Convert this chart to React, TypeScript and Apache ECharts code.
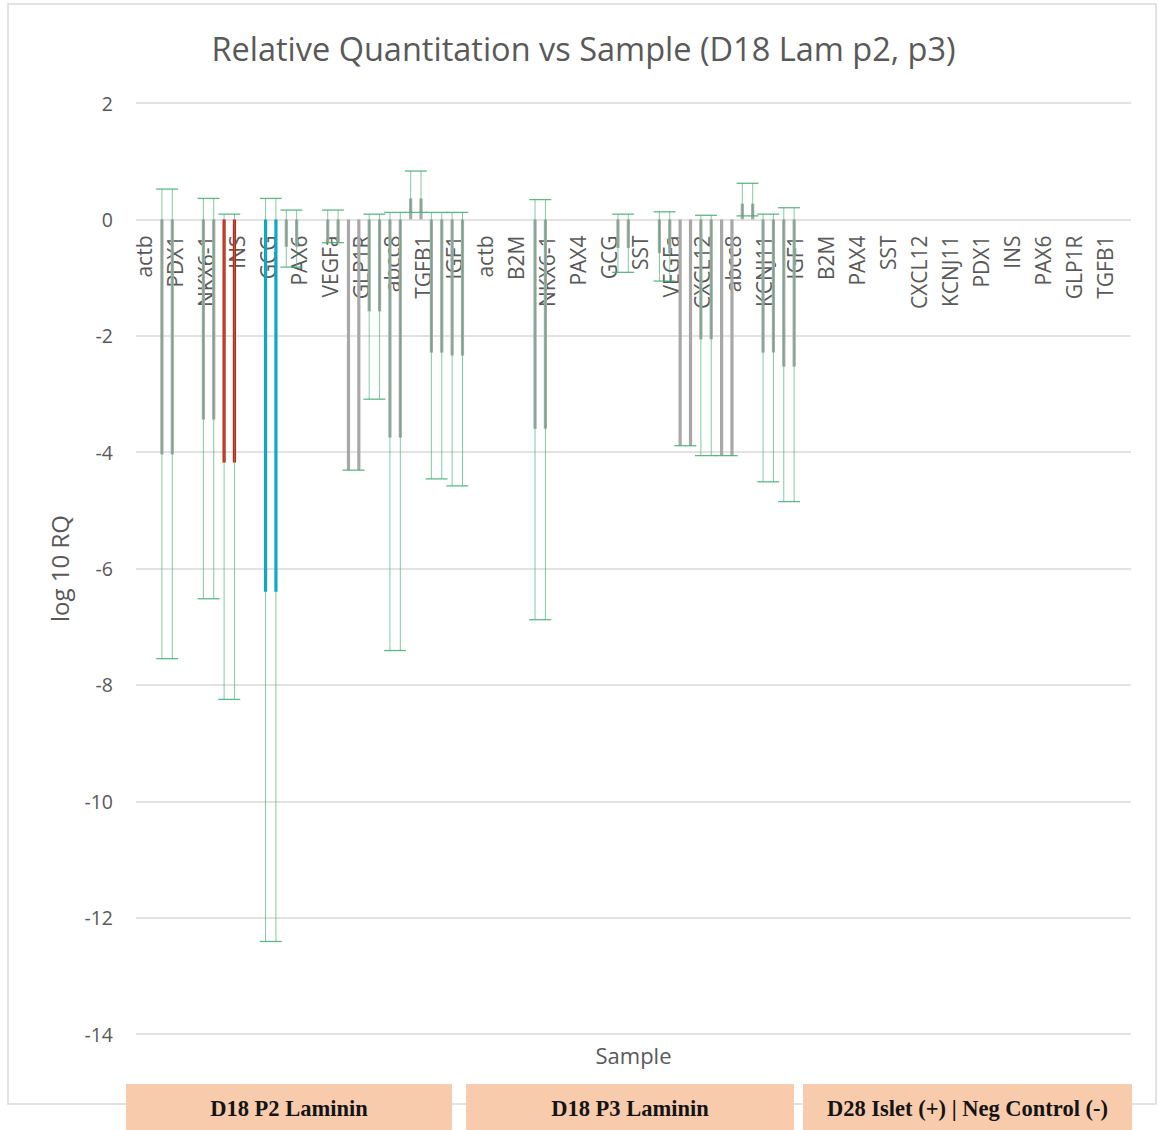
import React, { useEffect, useRef } from "react";
import * as echarts from "echarts";

// ---------- data ----------
const chartTitle = "Relative Quantitation vs Sample (D18 Lam p2, p3)";
const xAxisName = "Sample";
const yAxisName = "log 10 RQ";
const groupNames = ["D18 P2 Laminin", "D18 P3 Laminin", "D28 Islet (+) | Neg Control (-)"];
const geneLabels = [
  "actb", "PDX1", "NKX6-1", "INS", "GCG", "PAX6", "VEGFa", "GLP1R", "abcc8", "TGFB1", "IGF1",
  "actb", "B2M", "NKX6-1", "PAX4", "GCG", "SST", "VEGFa", "CXCL12", "abcc8", "KCNJ11", "IGF1",
  "B2M", "PAX4", "SST", "CXCL12", "KCNJ11", "PDX1", "INS", "PAX6", "GLP1R", "TGFB1",
];
const yTicks = { min: -14, max: 2, step: 2 };

// log10 RQ per bar slot in each sample group (null = no bar)
const p2Values = [null, -4.04, null, -3.44, -4.18, null, -6.4, -0.47, null, -0.4, -4.31, -1.58, -3.75, 0.36, -2.29, -2.34];
const p2Low = [null, -7.55, null, -6.52, -8.25, null, -12.41, -0.82, null, -0.4, -4.31, -3.09, -7.41, 0.12, -4.46, -4.58];
const p2High = [null, 0.52, null, 0.36, 0.09, null, 0.36, 0.16, null, 0.16, null, 0.09, 0.12, 0.83, 0.12, 0.12];

const p3Values = [null, null, null, -3.6, null, null, null, -0.49, null, -0.58, -3.89, -2.06, -4.06, 0.27, -2.29, -2.53];
const p3Low = [null, null, null, -6.88, null, null, null, -0.91, null, -1.06, -3.89, -4.06, -4.06, 0.06, -4.51, -4.85];
const p3High = [null, null, null, 0.34, null, null, null, 0.09, null, 0.13, null, 0.07, null, 0.62, 0.09, 0.2];

const ctrlValues = [null, null, null, null, null, null, null, null, null, null, null, null, null, null, null, null];
const ctrlLow = [null, null, null, null, null, null, null, null, null, null, null, null, null, null, null, null];
const ctrlHigh = [null, null, null, null, null, null, null, null, null, null, null, null, null, null, null, null];

// ---------- styles ----------
const TEXT = "#595959";
const GRID = "#D9D9D9";
const BAR_GRAY = "#A8A8A8";
const ERR_GREEN = "#3FAE72";
const highlight: Record<string, string> = { "0-4": "#E3140C", "0-6": "#00A6DC" };
const FONT = "'Open Sans', 'Noto Sans', sans-serif";

export default function App() {
  const ref = useRef<HTMLDivElement>(null);

  useEffect(() => {
    if (!ref.current) return;
    const chart = echarts.init(ref.current, null, { renderer: "svg" });

    const values = [p2Values, p3Values, ctrlValues];
    const lows = [p2Low, p3Low, ctrlLow];
    const highs = [p2High, p3High, ctrlHigh];
    const per = p2Values.length;

    const slotCats: string[] = [];
    groupNames.forEach((g, gi) => values[gi].forEach((_, i) => slotCats.push(g + "#" + i)));

    const data: any[] = [];
    values.forEach((arr, gi) =>
      arr.forEach((v, i) => {
        if (v !== null) data.push([gi * per + i, v]);
      })
    );

    const renderItem = (params: any, api: any) => {
      const slot = api.value(0);
      const v = api.value(1);
      const gi = Math.floor(slot / per);
      const i = slot % per;
      const lo = lows[gi][i];
      const hi = highs[gi][i];
      const base = api.coord([slot, 0]);
      const cx = base[0];
      const y0 = base[1];
      const yv = api.coord([slot, v])[1];
      const w = api.size([1, 0])[0];
      const half = w * 0.25;
      const capHalf = w * 0.53;
      const color = highlight[gi + "-" + i] || BAR_GRAY;
      const children: any[] = [];
      [-half, half].forEach((dx) =>
        children.push({
          type: "line",
          shape: { x1: cx + dx, y1: y0, x2: cx + dx, y2: yv },
          style: { stroke: color, lineWidth: 3.2 },
        })
      );
      const yLo = api.coord([slot, lo !== null ? lo : v])[1];
      const yHi = api.coord([slot, hi !== null ? hi : v])[1];
      [-half, half].forEach((dx) =>
        children.push({
          type: "line",
          shape: { x1: cx + dx, y1: yLo, x2: cx + dx, y2: yHi },
          style: { stroke: ERR_GREEN, lineWidth: 1, opacity: 0.65 },
        })
      );
      [lo !== null ? yLo : null, hi !== null ? yHi : null].forEach((yy) => {
        if (yy === null) return;
        children.push({
          type: "line",
          shape: { x1: cx - capHalf, y1: yy, x2: cx + capHalf, y2: yy },
          style: { stroke: ERR_GREEN, lineWidth: 1.3, opacity: 0.85 },
        });
      });
      return { type: "group", children };
    };

    const boxes = [
      { x: 126, w: 326 },
      { x: 466, w: 328 },
      { x: 803, w: 329 },
    ];

    const option: any = {
      animation: false,
      backgroundColor: "#ffffff",
      grid: [
        { left: 136, top: 103, width: 995, height: 931 },
        { left: 128, top: 103, width: 992, height: 116.5 },
      ],
      xAxis: [
        {
          type: "category",
          gridIndex: 0,
          data: slotCats,
          axisLine: { show: false, onZero: false },
          axisTick: { show: false },
          axisLabel: { show: false },
          splitLine: { show: false },
          name: xAxisName,
          nameLocation: "middle",
          nameGap: 10,
          nameTextStyle: { fontSize: 22, color: TEXT, fontFamily: FONT },
        },
        {
          type: "category",
          gridIndex: 1,
          data: geneLabels,
          position: "bottom",
          axisLine: { show: false, onZero: false },
          axisTick: { show: false },
          splitLine: { show: false },
          axisLabel: { interval: 0, rotate: 90, margin: 16, fontSize: 21, color: TEXT, fontFamily: FONT },
        },
      ],
      yAxis: [
        {
          type: "value",
          gridIndex: 0,
          min: yTicks.min,
          max: yTicks.max,
          interval: yTicks.step,
          axisLine: { show: false },
          axisTick: { show: false },
          axisLabel: { fontSize: 19.5, color: TEXT, margin: 23, fontFamily: FONT },
          splitLine: { lineStyle: { color: GRID, width: 1.6 } },
          name: yAxisName,
          nameLocation: "middle",
          nameGap: 65,
          nameTextStyle: { fontSize: 24, color: TEXT, fontFamily: FONT },
        },
        { type: "value", gridIndex: 1, show: false, min: 0, max: 1 },
      ],
      series: [
        {
          type: "custom",
          xAxisIndex: 0,
          yAxisIndex: 0,
          renderItem,
          data,
          encode: { x: 0, y: 1 },
          clip: false,
        },
        { type: "line", xAxisIndex: 1, yAxisIndex: 1, data: [] },
      ],
      graphic: [
        {
          type: "rect",
          z: -10,
          shape: { x: 8, y: 4, width: 1148, height: 1100 },
          style: { fill: "none", stroke: GRID, lineWidth: 1.5 },
        },
        {
          type: "text",
          x: 583.5,
          y: 48,
          style: {
            text: chartTitle,
            fontSize: 32.5,
            fontFamily: FONT,
            fill: TEXT,
            textAlign: "center",
            textVerticalAlign: "middle",
          },
        },
        ...boxes.map((b) => ({
          type: "rect",
          shape: { x: b.x, y: 1084, width: b.w, height: 46 },
          style: { fill: "#F8CBAD" },
        })),
        ...boxes.map((b, gi) => ({
          type: "text",
          x: b.x + b.w / 2,
          y: 1108,
          style: {
            text: groupNames[gi],
            fontSize: 22.5,
            fontWeight: "bold",
            fontFamily: "'Liberation Serif', serif",
            fill: "#141414",
            textAlign: "center",
            textVerticalAlign: "middle",
          },
        })),
      ],
    };

    chart.setOption(option);
    return () => chart.dispose();
  }, []);

  return (
    <div
      ref={ref}
      style={{ position: "absolute", left: 0, top: 0, width: 1158, height: 1130, background: "#fff" }}
    />
  );
}
